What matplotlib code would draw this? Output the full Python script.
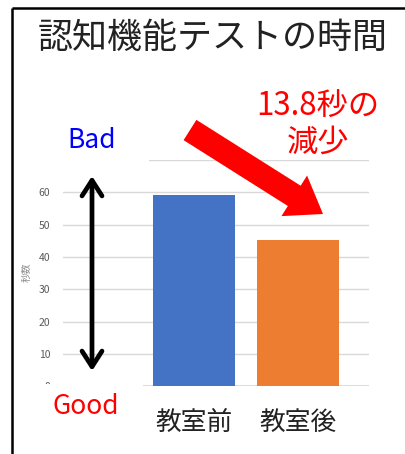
import matplotlib
matplotlib.use("Agg")
import matplotlib.pyplot as plt
from matplotlib.patches import FancyArrow, Rectangle

plt.rcParams['font.family'] = ['Noto Sans CJK JP', 'DejaVu Sans']

title = "認知機能テストの時間"
categories = ["教室前", "教室後"]
values = [59.2, 45.4]
colors = ["#4472C4", "#ED7D31"]
yticks = [0, 10, 20, 30, 40, 50, 60, 70]
ylabel = "秒数"
note = "13.8秒の\n減少"

W, H = 406, 454
fig = plt.figure(figsize=(W / 100, H / 100), dpi=100)

ax = fig.add_axes([63 / W, (H - 386.3) / H, 306 / W, 226.3 / H])
ax.bar(range(len(categories)), values, width=0.785, color=colors, zorder=2)
ax.set_xlim(-1.254, 1.675)
ax.set_ylim(0, 70)
ax.set_yticks(yticks)
ax.set_yticklabels([str(t) for t in yticks], fontsize=7.5, color="#595959")
ax.yaxis.grid(True, color="#D9D9D9", lw=1.0, zorder=0)
ax.tick_params(axis="y", length=0, pad=9)
ax.tick_params(axis="x", length=0, pad=17)
ax.set_xticks(range(len(categories)))
ax.set_xticklabels(categories, fontsize=18.5, color="#222222")
for s in ax.spines.values():
    s.set_visible(False)
ax.axhline(0, color="#D9D9D9", lw=1.2, zorder=1)

ov = fig.add_axes([0, 0, 1, 1], zorder=5)
ov.set_xlim(0, W)
ov.set_ylim(H, 0)
ov.axis("off")
ov.patch.set_visible(False)

# frame
ov.plot([12, 12], [8, H], color="black", lw=1.8, solid_capstyle="butt")
ov.plot([12, W], [8, 8], color="black", lw=1.8, solid_capstyle="butt")

# cover boxes (text boxes hiding parts of the axis)
ov.add_patch(Rectangle((30, 115), 119, 54, facecolor="white", edgecolor="none", zorder=3))
ov.add_patch(Rectangle((30, 384), 113, 45, facecolor="white", edgecolor="none", zorder=3))

ov.text(213, 38, title, fontsize=25.2, ha="center", va="center", color="#222222")
ov.text(92, 141, "Bad", fontsize=19, ha="center", va="center", color="#0000FF", zorder=4)
ov.text(86, 407, "Good", fontsize=19, ha="center", va="center", color="#FF0000", zorder=4)
ov.text(318, 124.5, note, fontsize=22.5, ha="center", va="center", color="#FF0000",
        linespacing=1.2)
ov.text(27, 272, ylabel, fontsize=7, rotation=90, ha="center", va="center", color="#8C8C8C")

ov.annotate("", xy=(92, 176), xytext=(92, 371),
            arrowprops=dict(arrowstyle="<->,head_length=0.7,head_width=0.45",
                            lw=3.4, color="black", mutation_scale=16,
                            shrinkA=0, shrinkB=0))

ov.add_patch(FancyArrow(190, 130, 133, 84, width=24, head_width=48, head_length=34,
                        length_includes_head=True, color="#FF0000", lw=0, zorder=4))

fig.savefig("out.png", dpi=100)
